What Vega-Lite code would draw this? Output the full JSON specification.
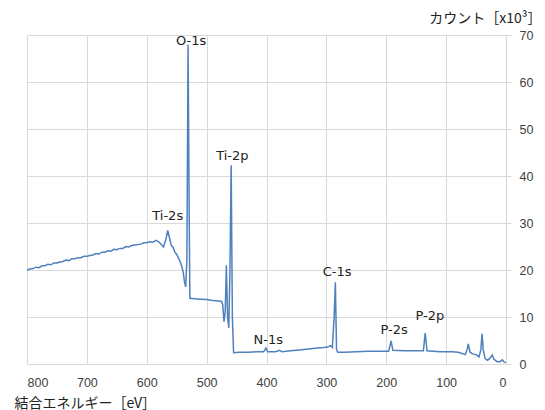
{
  "$schema": "https://vega.github.io/schema/vega-lite/v6.json",
  "width": 479,
  "height": 329,
  "autosize": {"type": "none"},
  "padding": {"left": 27, "top": 35, "right": 39, "bottom": 46},
  "background": "white",
  "config": {
    "view": {"stroke": null},
    "axis": {"gridColor": "#d9d9d9", "gridWidth": 1, "labelFont": "Liberation Sans", "labelFontSize": 12.5, "labelColor": "#404040", "titleFont": "Noto Sans CJK JP", "titleFontWeight": "normal", "titleColor": "#222222"}
  },
  "datasets": {
    "spectrum": [
      {"E": 800, "C": 20.0}, {"E": 795, "C": 20.2}, {"E": 790, "C": 20.3}, {"E": 785, "C": 20.6}, {"E": 780, "C": 20.5},
      {"E": 775, "C": 20.9}, {"E": 770, "C": 20.9}, {"E": 765, "C": 21.2}, {"E": 760, "C": 21.1}, {"E": 755, "C": 21.5},
      {"E": 750, "C": 21.5}, {"E": 745, "C": 21.7}, {"E": 740, "C": 21.8}, {"E": 735, "C": 22.1}, {"E": 730, "C": 22.0},
      {"E": 725, "C": 22.4}, {"E": 720, "C": 22.4}, {"E": 715, "C": 22.6}, {"E": 710, "C": 22.6}, {"E": 705, "C": 22.9},
      {"E": 700, "C": 22.9}, {"E": 695, "C": 23.1}, {"E": 690, "C": 23.2}, {"E": 685, "C": 23.5}, {"E": 680, "C": 23.4},
      {"E": 675, "C": 23.8}, {"E": 670, "C": 23.8}, {"E": 665, "C": 24.1}, {"E": 660, "C": 24.0}, {"E": 655, "C": 24.4},
      {"E": 650, "C": 24.3}, {"E": 645, "C": 24.6}, {"E": 640, "C": 24.6}, {"E": 635, "C": 25.0}, {"E": 630, "C": 24.9},
      {"E": 625, "C": 25.2}, {"E": 620, "C": 25.3}, {"E": 615, "C": 25.4}, {"E": 610, "C": 25.5}, {"E": 605, "C": 25.8},
      {"E": 600, "C": 25.8}, {"E": 595, "C": 26.0}, {"E": 590, "C": 25.9}, {"E": 585, "C": 26.3}, {"E": 580, "C": 26.0},
      {"E": 575, "C": 25.3}, {"E": 572, "C": 24.9}, {"E": 568, "C": 26.5}, {"E": 565, "C": 28.4}, {"E": 562, "C": 26.8},
      {"E": 559, "C": 25.2}, {"E": 556, "C": 24.8}, {"E": 553, "C": 23.8}, {"E": 550, "C": 23.3}, {"E": 545, "C": 22.0},
      {"E": 542, "C": 21.0}, {"E": 539, "C": 19.5}, {"E": 537, "C": 17.5}, {"E": 535, "C": 16.4}, {"E": 533, "C": 22.0},
      {"E": 531, "C": 67.9}, {"E": 529, "C": 30.0}, {"E": 528, "C": 14.0}, {"E": 520, "C": 13.9}, {"E": 510, "C": 13.8},
      {"E": 500, "C": 13.7}, {"E": 490, "C": 13.5}, {"E": 480, "C": 13.4}, {"E": 475, "C": 13.3}, {"E": 473, "C": 12.5},
      {"E": 471, "C": 9.0}, {"E": 469, "C": 11.0}, {"E": 467, "C": 21.0}, {"E": 465, "C": 10.0}, {"E": 463, "C": 7.7},
      {"E": 461, "C": 20.0}, {"E": 459, "C": 42.3}, {"E": 457, "C": 10.0}, {"E": 455, "C": 2.4}, {"E": 445, "C": 2.5},
      {"E": 430, "C": 2.5}, {"E": 415, "C": 2.6}, {"E": 405, "C": 2.6}, {"E": 401, "C": 3.4}, {"E": 398, "C": 2.6},
      {"E": 385, "C": 2.6}, {"E": 378, "C": 2.9}, {"E": 374, "C": 2.6}, {"E": 360, "C": 2.8}, {"E": 345, "C": 3.0},
      {"E": 330, "C": 3.2}, {"E": 315, "C": 3.4}, {"E": 305, "C": 3.5}, {"E": 298, "C": 3.6}, {"E": 293, "C": 3.9},
      {"E": 290, "C": 3.5}, {"E": 287, "C": 10.0}, {"E": 285, "C": 17.4}, {"E": 283, "C": 3.0}, {"E": 281, "C": 2.5},
      {"E": 270, "C": 2.5}, {"E": 250, "C": 2.6}, {"E": 230, "C": 2.7}, {"E": 210, "C": 2.7}, {"E": 196, "C": 2.7},
      {"E": 192, "C": 4.9}, {"E": 189, "C": 2.9}, {"E": 170, "C": 2.8}, {"E": 150, "C": 2.8}, {"E": 138, "C": 2.8},
      {"E": 135, "C": 6.6}, {"E": 132, "C": 2.8}, {"E": 110, "C": 2.6}, {"E": 90, "C": 2.6}, {"E": 80, "C": 2.5},
      {"E": 72, "C": 2.2}, {"E": 68, "C": 2.0}, {"E": 65, "C": 3.0}, {"E": 63, "C": 4.3}, {"E": 60, "C": 2.5},
      {"E": 55, "C": 2.1}, {"E": 50, "C": 2.0}, {"E": 45, "C": 1.5}, {"E": 42, "C": 3.0}, {"E": 40, "C": 6.4},
      {"E": 38, "C": 3.0}, {"E": 35, "C": 1.2}, {"E": 31, "C": 0.8}, {"E": 27, "C": 1.2}, {"E": 23, "C": 1.9},
      {"E": 20, "C": 1.0}, {"E": 15, "C": 0.5}, {"E": 10, "C": 0.5}, {"E": 6, "C": 0.9}, {"E": 3, "C": 0.4},
      {"E": 0, "C": 0.3}
    ],
    "labels": [
      {"label": "O-1s", "E": 526, "C": 68.8},
      {"label": "Ti-2p", "E": 457, "C": 44.3},
      {"label": "Ti-2s", "E": 565, "C": 31.5},
      {"label": "N-1s", "E": 397, "C": 5.1},
      {"label": "C-1s", "E": 282, "C": 19.6},
      {"label": "P-2s", "E": 187, "C": 7.2},
      {"label": "P-2p", "E": 127, "C": 10.2}
    ]
  },
  "layer": [
    {
      "data": {"name": "spectrum"},
      "mark": {"type": "line", "color": "#4f81bd", "strokeWidth": 1.5, "interpolate": "linear"},
      "encoding": {
        "x": {"field": "E", "type": "quantitative",
          "scale": {"domain": [0, 800], "reverse": true, "nice": false},
          "axis": {"values": [0, 100, 200, 300, 400, 500, 600, 700, 800], "domain": false, "ticks": false, "labelPadding": 12,
            "title": "結合エネルギー［eV］", "titleFontSize": 14, "titleAngle": 0, "titleAlign": "left", "titleBaseline": "middle", "titleX": -13, "titleY": 39}},
        "y": {"field": "C", "type": "quantitative",
          "scale": {"domain": [0, 70], "nice": false},
          "axis": {"orient": "right", "values": [0, 10, 20, 30, 40, 50, 60, 70], "domain": false, "tickColor": "#d9d9d9", "tickSize": 5, "labelPadding": 8,
            "title": "カウント［x10³］", "titleFontSize": 14, "titleAngle": 0, "titleAlign": "right", "titleBaseline": "middle", "titleX": 35, "titleY": -17}}
      }
    },
    {
      "data": {"name": "labels"},
      "mark": {"type": "text", "font": "DejaVu Sans", "fontSize": 13, "fontWeight": "normal", "color": "#222222", "align": "center", "baseline": "middle"},
      "encoding": {
        "x": {"field": "E", "type": "quantitative"},
        "y": {"field": "C", "type": "quantitative"},
        "text": {"field": "label"}
      }
    }
  ]
}
